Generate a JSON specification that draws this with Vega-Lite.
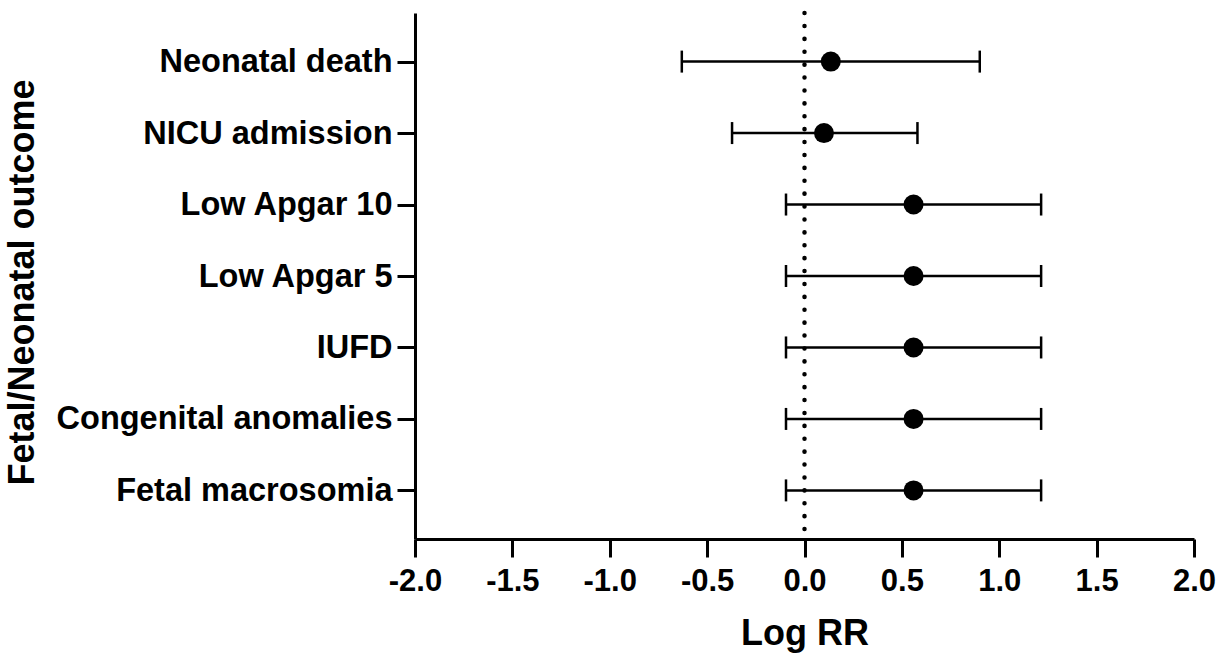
{
  "$schema": "https://vega.github.io/schema/vega-lite/v6.json",
  "autosize": "none",
  "padding": {"left": 415, "top": 13, "right": 26, "bottom": 114},
  "width": 779,
  "height": 526,
  "background": "white",
  "config": {
    "view": {"stroke": null},
    "font": "Liberation Sans",
    "axis": {
      "grid": false,
      "domainColor": "black",
      "domainWidth": 3,
      "tickColor": "black",
      "tickWidth": 3,
      "tickSize": 18,
      "labelColor": "black",
      "labelFont": "Liberation Sans",
      "labelFontWeight": "bold",
      "labelLimit": 0,
      "titleColor": "black",
      "titleFont": "Liberation Sans",
      "titleFontWeight": "bold"
    }
  },
  "data": {
    "values": [
      {"outcome": "Neonatal death", "est": 0.135, "lo": -0.63, "hi": 0.90},
      {"outcome": "NICU admission", "est": 0.10, "lo": -0.372, "hi": 0.58},
      {"outcome": "Low Apgar 10", "est": 0.56, "lo": -0.095, "hi": 1.215},
      {"outcome": "Low Apgar 5", "est": 0.56, "lo": -0.095, "hi": 1.215},
      {"outcome": "IUFD", "est": 0.56, "lo": -0.095, "hi": 1.215},
      {"outcome": "Congenital anomalies", "est": 0.56, "lo": -0.095, "hi": 1.215},
      {"outcome": "Fetal macrosomia", "est": 0.56, "lo": -0.095, "hi": 1.215}
    ]
  },
  "encoding": {
    "y": {
      "field": "outcome",
      "type": "nominal",
      "sort": null,
      "scale": {"type": "point", "padding": 0.68},
      "axis": {
        "title": "Fetal/Neonatal outcome",
        "labelFontSize": 32.5,
        "labelPadding": 5,
        "titleFontSize": 36,
        "titleX": -393,
        "titleY": 269,
        "titleAngle": -90,
        "titleAlign": "center",
        "titleBaseline": "middle"
      }
    }
  },
  "layer": [
    {
      "data": {"values": [{"ref": 0}]},
      "mark": {"type": "rule", "strokeDash": [0.1, 12.8], "strokeCap": "round", "strokeWidth": 4.5, "color": "black"},
      "encoding": {
        "x": {"field": "ref", "type": "quantitative", "scale": {"domain": [-2, 2], "nice": false}},
        "y": null
      }
    },
    {
      "mark": {"type": "rule", "color": "black", "strokeWidth": 2.5},
      "encoding": {
        "x": {
          "field": "lo",
          "type": "quantitative",
          "scale": {"domain": [-2, 2], "nice": false, "zero": false},
          "axis": {
            "title": "Log RR",
            "values": [-2, -1.5, -1, -0.5, 0, 0.5, 1, 1.5, 2],
            "labelExpr": "replace(format(datum.value, '.1f'), '\u2212', '-')",
            "labelFlush": false,
            "labelOverlap": false,
            "labelFontSize": 31,
            "labelPadding": 9,
            "titleFontSize": 36,
            "titlePadding": 20
          }
        },
        "x2": {"field": "hi"}
      }
    },
    {
      "mark": {"type": "tick", "color": "black", "opacity": 1, "thickness": 2.5, "size": 22, "orient": "vertical"},
      "encoding": {"x": {"field": "lo", "type": "quantitative"}}
    },
    {
      "mark": {"type": "tick", "color": "black", "opacity": 1, "thickness": 2.5, "size": 22, "orient": "vertical"},
      "encoding": {"x": {"field": "hi", "type": "quantitative"}}
    },
    {
      "mark": {"type": "point", "shape": "circle", "filled": true, "color": "black", "opacity": 1, "size": 400},
      "encoding": {"x": {"field": "est", "type": "quantitative"}}
    }
  ]
}
